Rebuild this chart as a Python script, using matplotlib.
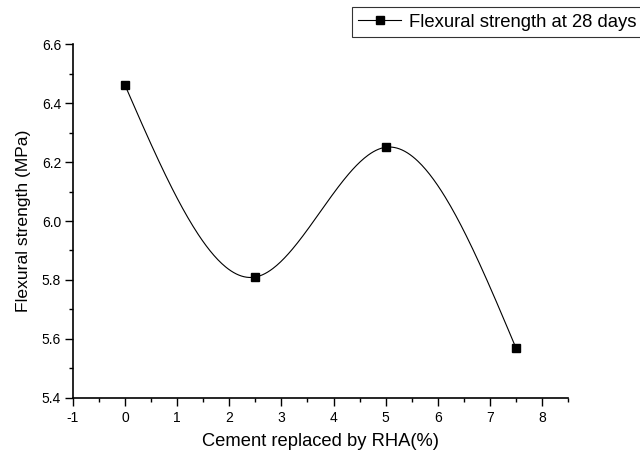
import matplotlib
matplotlib.use("Agg")
import matplotlib.pyplot as plt
from matplotlib.ticker import MultipleLocator
import numpy as np

plt.rcParams['font.family'] = ['Liberation Sans', 'DejaVu Sans']
plt.rcParams['axes.unicode_minus'] = False

rha = [0, 2.5, 5, 7.5]
strength = [6.46, 5.81, 6.25, 5.57]
label = 'Flexural strength at 28 days'


def natural_spline(x, y, xs):
    # plain natural cubic spline, like the smooth line in Origin
    x = np.asarray(x, float)
    y = np.asarray(y, float)
    n = len(x)
    h = np.diff(x)
    A = np.zeros((n, n))
    b = np.zeros(n)
    A[0, 0] = A[-1, -1] = 1
    for i in range(1, n - 1):
        A[i, i - 1] = h[i - 1]
        A[i, i] = 2 * (h[i - 1] + h[i])
        A[i, i + 1] = h[i]
        b[i] = 6 * ((y[i + 1] - y[i]) / h[i] - (y[i] - y[i - 1]) / h[i - 1])
    m = np.linalg.solve(A, b)
    idx = np.clip(np.searchsorted(x, xs) - 1, 0, n - 2)
    t0 = x[idx]
    t1 = x[idx + 1]
    hh = t1 - t0
    return (m[idx] * (t1 - xs) ** 3 / (6 * hh) + m[idx + 1] * (xs - t0) ** 3 / (6 * hh)
            + (y[idx] / hh - m[idx] * hh / 6) * (t1 - xs)
            + (y[idx + 1] / hh - m[idx + 1] * hh / 6) * (xs - t0))


fig = plt.figure(figsize=(6.4, 4.59), dpi=100)
ax = fig.add_axes([0.114, 0.133, 0.7735, 0.771])

xs = np.linspace(rha[0], rha[-1], 300)
ax.plot(xs, natural_spline(rha, strength, xs), color='black', lw=0.8)
ax.plot(rha, strength, 's', color='black', ms=5.5)

# legend proxy
ax.plot([], [], '-s', color='black', lw=0.8, ms=5.5, label=label)

ax.set_xlim(-1, 8.5)
ax.set_ylim(5.4, 6.6)
ax.xaxis.set_major_locator(MultipleLocator(1))
ax.xaxis.set_minor_locator(MultipleLocator(0.5))
ax.yaxis.set_major_locator(MultipleLocator(0.2))
ax.yaxis.set_minor_locator(MultipleLocator(0.1))
ax.yaxis.set_major_formatter(plt.FormatStrFormatter('%.1f'))

for s in ['top', 'right']:
    ax.spines[s].set_visible(False)
for s in ['left', 'bottom']:
    ax.spines[s].set_linewidth(1.2)

ax.tick_params(which='major', direction='out', length=5.5, width=1, labelsize=10)
ax.tick_params(which='minor', direction='out', length=3, width=1)
ax.tick_params(axis='y', which='major', pad=3)
ax.tick_params(axis='x', which='major', pad=4)

ax.set_xlabel('Cement replaced by RHA(%)', fontsize=13.2, labelpad=6)
ax.set_ylabel('Flexural strength (MPa)', fontsize=12.6, labelpad=8)

leg = fig.legend(loc='upper left', bbox_to_anchor=(0.55, 0.984), fontsize=13.3,
                 frameon=True, fancybox=False, edgecolor='black',
                 handlelength=2.3, handletextpad=0.45, borderpad=0.35, borderaxespad=0)
leg.get_frame().set_linewidth(0.8)

fig.savefig('out.png', dpi=100)
